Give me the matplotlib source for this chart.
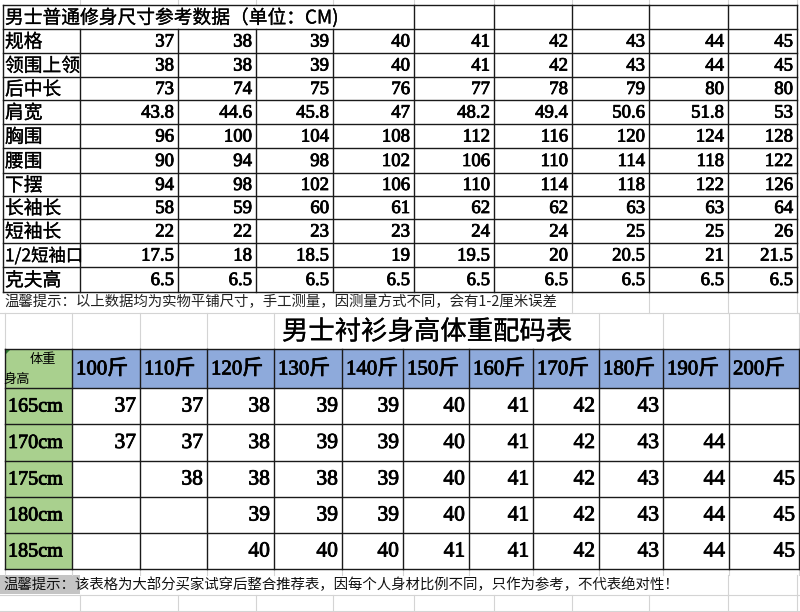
import matplotlib.pyplot as plt
import matplotlib.patheffects as pe
from matplotlib.patches import Rectangle, Polygon

plt.rcParams['font.family'] = ['Noto Sans CJK SC', 'DejaVu Sans']

# ---- data: size reference table (cm) ----
top_title = '男士普通修身尺寸参考数据（单位：CM)'
row_names = ['规格', '领围上领', '后中长', '肩宽', '胸围', '腰围', '下摆',
             '长袖长', '短袖长', '1/2短袖口', '克夫高']
spec = [37, 38, 39, 40, 41, 42, 43, 44, 45]
collar = [38, 38, 39, 40, 41, 42, 43, 44, 45]
back_length = [73, 74, 75, 76, 77, 78, 79, 80, 80]
shoulder = [43.8, 44.6, 45.8, 47, 48.2, 49.4, 50.6, 51.8, 53]
chest = [96, 100, 104, 108, 112, 116, 120, 124, 128]
waist = [90, 94, 98, 102, 106, 110, 114, 118, 122]
hem = [94, 98, 102, 106, 110, 114, 118, 122, 126]
long_sleeve = [58, 59, 60, 61, 62, 62, 63, 63, 64]
short_sleeve = [22, 22, 23, 23, 24, 24, 25, 25, 26]
half_short_cuff = [17.5, 18, 18.5, 19, 19.5, 20, 20.5, 21, 21.5]
cuff_height = [6.5, 6.5, 6.5, 6.5, 6.5, 6.5, 6.5, 6.5, 6.5]
top_note = '温馨提示：以上数据均为实物平铺尺寸，手工测量，因测量方式不同，会有1-2厘米误差'

# ---- data: height / weight size chart ----
chart_title = '男士衬衫身高体重配码表'
weights_jin = [100, 110, 120, 130, 140, 150, 160, 170, 180, 190, 200]
heights_cm = [165, 170, 175, 180, 185]
size_165 = [37, 37, 38, 39, 39, 40, 41, 42, 43, None, None]
size_170 = [37, 37, 38, 39, 39, 40, 41, 42, 43, 44, None]
size_175 = [None, 38, 38, 38, 39, 40, 41, 42, 43, 44, 45]
size_180 = [None, None, 39, 39, 39, 40, 41, 42, 43, 44, 45]
size_185 = [None, None, 40, 40, 40, 41, 41, 42, 43, 44, 45]
bottom_note = '温馨提示：该表格为大部分买家试穿后整合推荐表，因每个人身材比例不同，只作为参考，不代表绝对性！'

top_values = [spec, collar, back_length, shoulder, chest, waist, hem,
              long_sleeve, short_sleeve, half_short_cuff, cuff_height]
chart_values = [size_165, size_170, size_175, size_180, size_185]

# ---- layout (pixels) ----
top_cols = [3, 80, 178, 256, 333, 414, 494, 572, 649, 728, 797]
top_rows = [5, 29, 53, 77, 100, 124, 148, 173, 196, 219, 243, 267, 292]
ch_cols = [5, 72, 140, 207, 274, 342, 403, 469, 533, 599, 663, 729, 799]
ch_rows = [349, 388, 424, 461, 497, 533, 569]

line_c = '#1a1a1a'
grid_c = '#d4d4d4'
green = '#a9d08e'
blue = '#8eaadb'
num_font = 'Liberation Serif'
# slightly heavier strokes, like the bitmap font of the screenshot
heavy = [pe.Stroke(linewidth=0.6, foreground='black'), pe.Normal()]
semi = [pe.Stroke(linewidth=0.2, foreground='black'), pe.Normal()]

fig = plt.figure(figsize=(8, 6.12), dpi=100)
ax = fig.add_axes([0, 0, 1, 1])
ax.set_xlim(0, 800)
ax.set_ylim(612, 0)
ax.axis('off')

# light excel gridlines
for x in top_cols[1:]:
    ax.plot([x, x], [0, 5], color=grid_c, lw=0.8)
    ax.plot([x, x], [595, 612], color=grid_c, lw=0.8)
for x in top_cols:
    if x > 565:
        ax.plot([x, x], [292, 313], color=grid_c, lw=0.8)
    if x > 690:
        ax.plot([x, x], [575, 595], color=grid_c, lw=0.8)
for x in ch_cols:
    if x < 280 or x > 580:
        ax.plot([x, x], [313, 349], color=grid_c, lw=0.8)
    ax.plot([x, x], [569, 575], color=grid_c, lw=0.8)
for y in [313, 595, 611]:
    ax.plot([0, 800], [y, y], color=grid_c, lw=0.8)

# ---- top table ----
for y in top_rows:
    ax.plot([top_cols[0], top_cols[-1]], [y, y], color=line_c, lw=1.0)
for x in top_cols:
    y0 = top_rows[0] if (x == top_cols[0] or x >= 414) else top_rows[1]
    ax.plot([x, x], [y0, top_rows[-1]], color=line_c, lw=1.0)

ax.text(5, (top_rows[0] + top_rows[1]) / 2 + 1, top_title, fontsize=13.5,
        va='center', ha='left', color='black', path_effects=semi)

for i, (name, vals) in enumerate(zip(row_names, top_values)):
    yc = (top_rows[i + 1] + top_rows[i + 2]) / 2 + 1
    ax.text(5, yc, name, fontsize=13.5 if i != 9 else 12.5,
            va='center', ha='left', color='black', path_effects=semi)
    for j, v in enumerate(vals):
        ax.text(top_cols[j + 2] - 4, yc, '%g' % v, fontsize=13.5,
                family=num_font, va='center', ha='right', color='black',
                path_effects=heavy)

ax.text(4, 302, top_note, fontsize=10.4, va='center', ha='left',
        color='#222222')

# ---- size chart ----
ax.text(427, 332, chart_title, fontsize=19, va='center', ha='center',
        color='black', path_effects=semi)

ax.add_patch(Rectangle((ch_cols[0], ch_rows[0]), ch_cols[1] - ch_cols[0],
                       ch_rows[-1] - ch_rows[0], color=green, lw=0))
ax.add_patch(Rectangle((ch_cols[1], ch_rows[0]), ch_cols[-1] - ch_cols[1],
                       ch_rows[1] - ch_rows[0], color=blue, lw=0))
ax.add_patch(Polygon([(ch_cols[0], ch_rows[0]), (ch_cols[0] + 6, ch_rows[0]),
                      (ch_cols[0], ch_rows[0] + 6)], color='#2e7d32', lw=0))

for y in ch_rows:
    ax.plot([ch_cols[0], ch_cols[-1]], [y, y], color=line_c, lw=1.0)
for x in ch_cols:
    ax.plot([x, x], [ch_rows[0], ch_rows[-1]], color=line_c, lw=1.0)

ax.text(43, 360, '体重', fontsize=9.5, va='center', ha='center')
ax.text(17, 379, '身高', fontsize=9.5, va='center', ha='center')

for j, w in enumerate(weights_jin):
    ax.text(ch_cols[j + 1] + 4, (ch_rows[0] + ch_rows[1]) / 2 + 1, '%d斤' % w,
            fontsize=15, family=[num_font, 'Noto Sans CJK SC'],
            va='center', ha='left', color='black', path_effects=heavy)

for i, (h, vals) in enumerate(zip(heights_cm, chart_values)):
    yc = (ch_rows[i + 1] + ch_rows[i + 2]) / 2 + 1
    ax.text(ch_cols[0] + 3, yc, '%dcm' % h, fontsize=14.5, family=num_font,
            va='center', ha='left', color='black', path_effects=heavy)
    for j, v in enumerate(vals):
        if v is None:
            continue
        ax.text(ch_cols[j + 2] - 4, yc, '%d' % v, fontsize=15.5,
                family=num_font, va='center', ha='right', color='black',
                path_effects=heavy)

ax.add_patch(Rectangle((0, 575), 80, 19, color='#c4c4c4', lw=0))
ax.text(3, 585, bottom_note, fontsize=10.4, va='center', ha='left',
        color='#111111')

plt.savefig('out.png', dpi=100)
